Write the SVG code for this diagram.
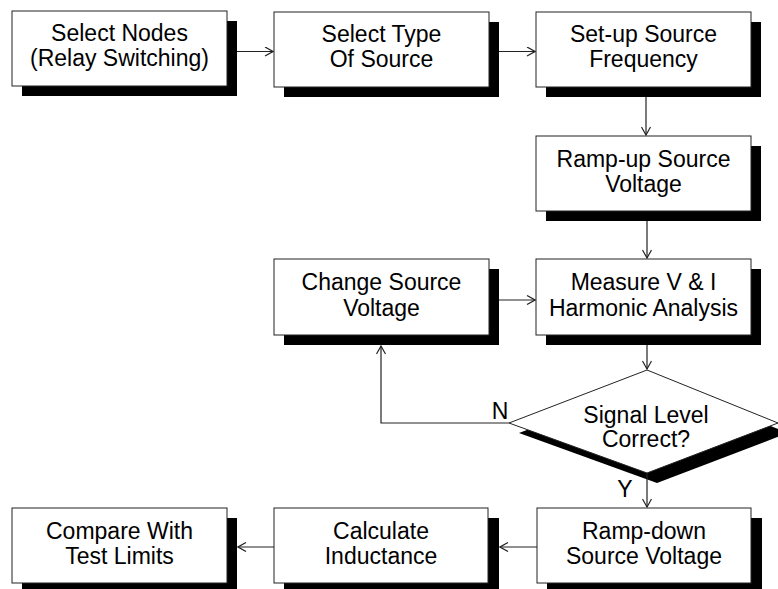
<svg xmlns="http://www.w3.org/2000/svg" width="778" height="589" viewBox="0 0 778 589">
<style>
.box{fill:#fff;stroke:#222;stroke-width:1}
.sh{fill:#000}
.t{font-family:"Liberation Sans",Arial,sans-serif;font-size:23px;fill:#000;text-anchor:middle}
.c{fill:none;stroke:#222;stroke-width:1.2}
</style>
<defs>
<marker id="a" markerWidth="10" markerHeight="10" refX="9" refY="5" orient="auto" markerUnits="userSpaceOnUse">
<path d="M1,0.5 L9,5 L1,9.5" fill="none" stroke="#222" stroke-width="1.2"/>
</marker>
</defs>
<rect width="778" height="589" fill="#fff"/>
<g id="n1"><rect class="sh" x="22" y="21" width="215" height="75"/><rect class="box" x="12" y="11" width="215" height="75"/><text class="t" x="119.5" y="41">Select Nodes</text><text class="t" x="119.5" y="66">(Relay Switching)</text></g>
<g id="n2"><rect class="sh" x="284" y="22" width="215" height="75"/><rect class="box" x="274" y="12" width="215" height="75"/><text class="t" x="381.5" y="42">Select Type</text><text class="t" x="381.5" y="67">Of Source</text></g>
<g id="n3"><rect class="sh" x="546" y="22" width="215" height="75"/><rect class="box" x="536" y="12" width="215" height="75"/><text class="t" x="643.5" y="42">Set-up Source</text><text class="t" x="643.5" y="67">Frequency</text></g>
<g id="n4"><rect class="sh" x="546" y="146" width="215" height="75"/><rect class="box" x="536" y="136" width="215" height="75"/><text class="t" x="643.5" y="167">Ramp-up Source</text><text class="t" x="643.5" y="192">Voltage</text></g>
<g id="n5"><rect class="sh" x="546" y="269" width="215" height="76"/><rect class="box" x="536" y="259" width="215" height="76"/><text class="t" x="643.5" y="290">Measure V &amp; I</text><text class="t" x="643.5" y="316">Harmonic Analysis</text></g>
<g id="n6"><rect class="sh" x="284" y="269" width="215" height="76"/><rect class="box" x="274" y="259" width="215" height="76"/><text class="t" x="381.5" y="290">Change Source</text><text class="t" x="381.5" y="316">Voltage</text></g>
<g id="n7"><polygon class="sh" points="657,380 788,433 657,483 519,433"/><polygon class="box" points="647,370 778,423 647,473 509,423"/><text class="t" x="646" y="423">Signal Level</text><text class="t" x="646" y="447">Correct?</text></g>
<g id="n8"><rect class="sh" x="547" y="518" width="215" height="75"/><rect class="box" x="537" y="508" width="214" height="75"/><text class="t" x="644" y="539">Ramp-down</text><text class="t" x="644" y="564">Source Voltage</text></g>
<g id="n9"><rect class="sh" x="284" y="518" width="215" height="75"/><rect class="box" x="274" y="508" width="214" height="75"/><text class="t" x="381" y="539">Calculate</text><text class="t" x="381" y="564">Inductance</text></g>
<g id="n10"><rect class="sh" x="22" y="518" width="215" height="75"/><rect class="box" x="12" y="508" width="215" height="75"/><text class="t" x="119.5" y="539">Compare With</text><text class="t" x="119.5" y="564">Test Limits</text></g>
<g id="connectors">
<line class="c" x1="237" y1="51.5" x2="273" y2="51.5" marker-end="url(#a)"/>
<line class="c" x1="499" y1="51.5" x2="535" y2="51.5" marker-end="url(#a)"/>
<line class="c" x1="646" y1="97" x2="646" y2="135" marker-end="url(#a)"/>
<line class="c" x1="647" y1="221" x2="647" y2="258" marker-end="url(#a)"/>
<line class="c" x1="499" y1="300" x2="535" y2="300" marker-end="url(#a)"/>
<line class="c" x1="647" y1="345" x2="647" y2="369" marker-end="url(#a)"/>
<polyline class="c" points="509,423 381,423 381,346" marker-end="url(#a)"/>
<line class="c" x1="647" y1="473" x2="647" y2="507" marker-end="url(#a)"/>
<line class="c" x1="537" y1="547" x2="500" y2="547" marker-end="url(#a)"/>
<line class="c" x1="274" y1="547" x2="238" y2="547" marker-end="url(#a)"/>
<text class="t" x="500" y="419">N</text>
<text class="t" x="625" y="497">Y</text>
</g>
</svg>
